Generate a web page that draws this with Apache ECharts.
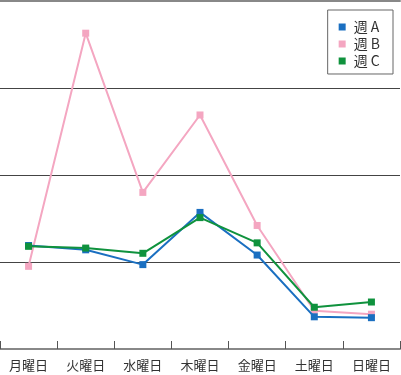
<!DOCTYPE html>
<html><head><meta charset="utf-8">
<script src="https://cdn.jsdelivr.net/npm/echarts@6/dist/echarts.min.js"></script>
<style>html,body{margin:0;padding:0;background:#fff}#c{width:401px;height:375px}</style>
</head><body><div id="c"></div>
<script>
const categories = ['月曜日','火曜日','水曜日','木曜日','金曜日','土曜日','日曜日'];
const seriesNames = ['週 A','週 B','週 C'];
const weekA = [1.19, 1.14, 0.97, 1.57, 1.08, 0.37, 0.36];
const weekB = [0.95, 3.63, 1.80, 2.69, 1.42, 0.44, 0.40];
const weekC = [1.18, 1.16, 1.10, 1.51, 1.22, 0.48, 0.54];
const colors = ['#1a6fc1', '#f4a6c1', '#0f923d'];
const font = '"Noto Sans CJK JP", "Noto Sans", sans-serif';

const chart = echarts.init(document.getElementById('c'), null, {renderer:'canvas'});
const mk = (name, data, i) => ({
  name, type:'line', data, symbol:'rect', symbolSize:7,
  itemStyle:{color:colors[i]}, lineStyle:{color:colors[i], width:2},
  z: i===1 ? 2 : 3
});
chart.setOption({
  animation:false,
  textStyle:{fontFamily:font},
  grid:{left:0, right:1, top:1, bottom:26, containLabel:false},
  legend:{
    right:8, top:10, orient:'vertical', icon:'rect', itemWidth:7, itemHeight:7,
    itemGap:3, padding:[10,13,6,11], borderColor:'#666', borderWidth:1,
    textStyle:{fontSize:14, color:'#333', fontFamily:font, padding:[0,0,0,3]},
    data: seriesNames
  },
  xAxis:[{
    type:'category', data:categories, boundaryGap:true,
    axisLine:{show:true, lineStyle:{color:'#888', width:2}},
    axisTick:{show:true, inside:true, length:8, interval:0, lineStyle:{color:'#555', width:1}},
    axisLabel:{color:'#333', fontSize:13, margin:10, fontFamily:font, interval:0},
    splitLine:{show:false}
  },{
    type:'category', position:'top', data:categories,
    axisLine:{lineStyle:{color:'#888', width:2}},
    axisTick:{show:false}, axisLabel:{show:false}
  }],
  yAxis:{
    type:'value', min:0, max:4, interval:1,
    axisLine:{show:false}, axisTick:{show:false}, axisLabel:{show:false},
    splitLine:{lineStyle:{color:'#444', width:1}}
  },
  series:[mk(seriesNames[0], weekA, 0), mk(seriesNames[1], weekB, 1), mk(seriesNames[2], weekC, 2)]
});
</script></body></html>
